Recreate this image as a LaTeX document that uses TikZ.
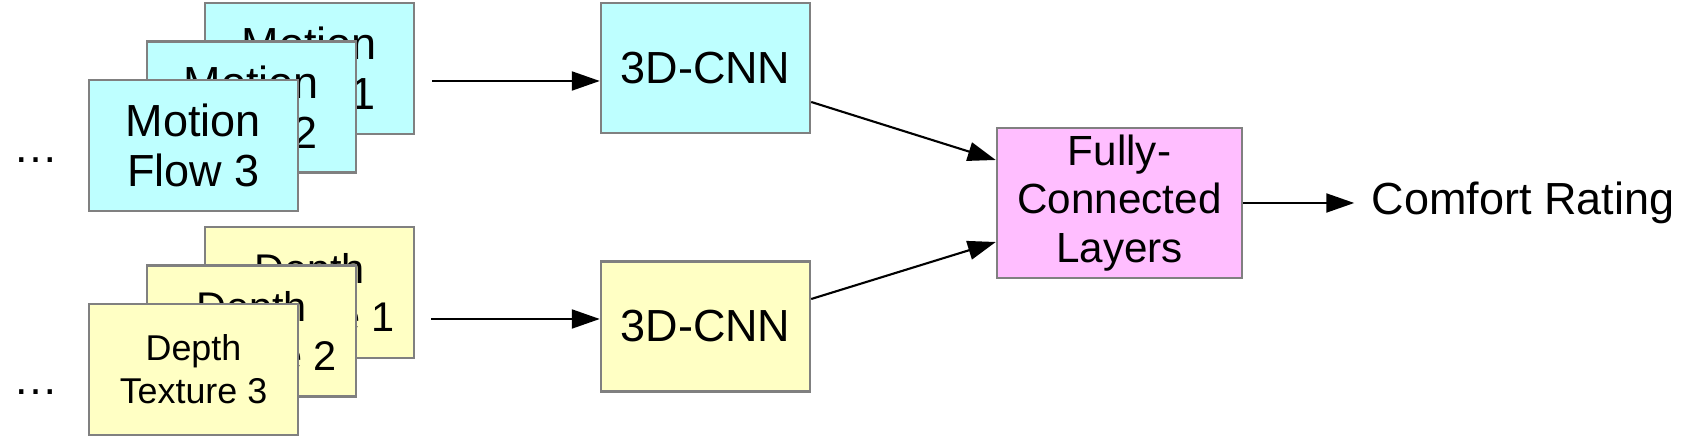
\documentclass[tikz,border=0pt]{standalone}
\usepackage{fontspec}
\setmainfont{Liberation Sans}
\usetikzlibrary{arrows.meta,positioning}

\definecolor{flowcyan}{RGB}{190,255,255}
\definecolor{depthyellow}{RGB}{255,255,196}
\definecolor{fcpink}{RGB}{255,190,255}
\definecolor{boxgray}{RGB}{128,128,128}

\begin{document}
\begin{tikzpicture}[
    box/.style={draw=boxgray, line width=0.7pt, align=center, inner sep=0pt,
                minimum width=2.09cm, minimum height=1.31cm},
    flowbox/.style={box, fill=flowcyan, font=\fontsize{12.8}{14.2}\selectfont},
    depthbox/.style={box, fill=depthyellow, font=\fontsize{11.8}{13.8}\selectfont},
    cnnbox/.style={box, minimum height=1.30cm, font=\fontsize{12.8}{14.2}\selectfont},
    fcbox/.style={box, fill=fcpink, minimum width=2.45cm, minimum height=1.50cm,
                  font=\fontsize{12}{13.8}\selectfont},
    arr/.style={-{Triangle[length=2.8mm, width=1.9mm]}, line width=0.6pt}
]
    % --- 定义参数 ---
    \def\dx{0.58}    % 堆叠帧的水平偏移
    \def\dy{0.385}   % 堆叠帧的垂直偏移

    % 固定画布大小
    \useasboundingbox (0,0) rectangle (16.89,4.48);

    % --- 运动流帧 (青色, 后面的先画) ---
    \node[flowbox] (flow1) at (3.095,3.795) {Motion\\Flow 1};
    \node[flowbox] (flow2) at ([shift={(-\dx,-\dy)}]flow1.center) {Motion\\Flow 2};
    \node[flowbox] (flow3) at ([shift={(-\dx,-\dy)}]flow2.center) {Motion\\Flow 3};
    \node[font=\fontsize{12.8}{14.2}\selectfont, inner sep=0pt] (dots1) at (0.355,2.88) {…};

    % --- 深度纹理帧 (黄色) ---
    \node[depthbox] (depth1) at (3.095,1.555) {Depth\\Texture 1};
    \node[depthbox] (depth2) at ([shift={(-\dx,-\dy)}]depth1.center) {Depth\\Texture 2};
    % 最前面一帧的字小一些
    \node[depthbox, font=\fontsize{10.2}{12.2}\selectfont] (depth3)
        at ([shift={(-\dx,-\dy)}]depth2.center) {Depth\\Texture 3};
    \node[font=\fontsize{12.8}{14.2}\selectfont, inner sep=0pt] (dots2) at (0.355,0.56) {…};

    % --- 两个 3D-CNN ---
    \node[cnnbox, fill=flowcyan] (cnn1) at (7.055,3.80) {3D-CNN};
    \node[cnnbox, fill=depthyellow] (cnn2) at (7.055,1.215) {3D-CNN};

    % --- 全连接层和输出 ---
    \node[fcbox] (fc) at (11.195,2.45) {Fully-\\Connected\\Layers};
    \node[right=1.11cm of fc, inner xsep=1.7mm, inner ysep=0pt,
          font=\fontsize{12.8}{14.2}\selectfont] (comfort) {Comfort Rating};

    % --- 箭头 ---
    % 输入箭头的起点在帧堆叠右侧
    \coordinate (in1) at ([xshift=1.7mm, yshift=-1.25mm]flow1.east);
    \coordinate (in2) at ([xshift=1.6mm, yshift=-2.65mm]depth1.east);
    \draw[arr] (in1) -- (in1 -| cnn1.west);
    \draw[arr] (in2) -- (in2 -| cnn2.west);

    \draw[arr] ([yshift=-3.4mm]cnn1.east) -- ([yshift=4.3mm]fc.west);
    \draw[arr] ([yshift=2.75mm]cnn2.east) -- ([yshift=-3.9mm]fc.west);
    \draw[arr] (fc.east) -- (comfort.west);

\end{tikzpicture}
\end{document}
